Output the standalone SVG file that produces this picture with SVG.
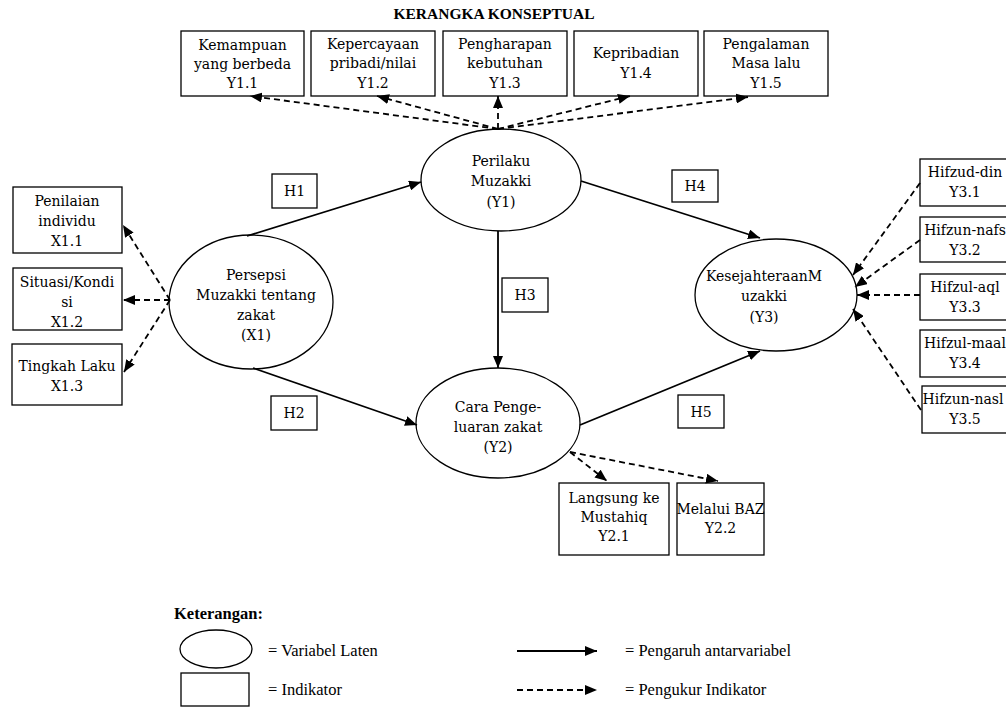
<svg xmlns="http://www.w3.org/2000/svg" width="1006" height="707" viewBox="0 0 1006 707">
  <defs>
    <marker id="head" markerUnits="userSpaceOnUse" markerWidth="13" markerHeight="10" refX="12" refY="5" orient="auto">
      <path d="M0,0 L12,5 L0,10 z" fill="#000"/>
    </marker>
    <style>
      .box { fill: #fff; stroke: #000; stroke-width: 1.3; }
      .lat { fill: #fff; stroke: #000; stroke-width: 1.3; }
      text { font-family: "DejaVu Serif", "Liberation Serif", serif; font-size: 14px; fill: #000; text-anchor: middle; }
      .title { font-family: "Liberation Serif", serif; font-weight: bold; font-size: 15.5px; }
      .key { font-family: "Liberation Serif", serif; font-size: 16.5px; text-anchor: start; }
      .keyhead { font-family: "Liberation Serif", serif; font-weight: bold; font-size: 16.5px; text-anchor: start; }
      .solid { stroke: #000; stroke-width: 1.8; fill: none; marker-end: url(#head); }
      .dash { stroke: #000; stroke-width: 1.8; fill: none; stroke-dasharray: 6 4; marker-end: url(#head); }
    </style>
  </defs>
  <rect width="1006" height="707" fill="#fff"/>

  <text class="title" x="494" y="19">KERANGKA KONSEPTUAL</text>

  <!-- indicators of Y1 -->
  <g id="y1-1"><rect class="box" x="181" y="31" width="123" height="65"/>
    <text x="242.5" y="50">Kemampuan</text><text x="242.5" y="69">yang berbeda</text><text x="242.5" y="88">Y1.1</text></g>
  <g id="y1-2"><rect class="box" x="311" y="31" width="124" height="65"/>
    <text x="373" y="49">Kepercayaan</text><text x="373" y="68">pribadi/nilai</text><text x="373" y="88">Y1.2</text></g>
  <g id="y1-3"><rect class="box" x="443" y="31" width="124" height="65"/>
    <text x="505" y="49">Pengharapan</text><text x="505" y="68">kebutuhan</text><text x="505" y="88">Y1.3</text></g>
  <g id="y1-4"><rect class="box" x="574" y="31" width="124" height="65"/>
    <text x="636" y="58">Kepribadian</text><text x="636" y="78">Y1.4</text></g>
  <g id="y1-5"><rect class="box" x="704" y="31" width="124" height="65"/>
    <text x="766" y="49">Pengalaman</text><text x="766" y="68">Masa lalu</text><text x="766" y="88">Y1.5</text></g>

  <!-- indicators of X1 -->
  <g id="x1-1"><rect class="box" x="13" y="187" width="109" height="66"/>
    <text x="67" y="206">Penilaian</text><text x="67" y="226">individu</text><text x="67" y="246">X1.1</text></g>
  <g id="x1-2"><rect class="box" x="13" y="268" width="109" height="62"/>
    <text x="67" y="287">Situasi/Kondi</text><text x="67" y="307">si</text><text x="67" y="327">X1.2</text></g>
  <g id="x1-3"><rect class="box" x="12" y="344" width="110" height="61"/>
    <text x="67" y="371">Tingkah Laku</text><text x="67" y="391">X1.3</text></g>

  <!-- indicators of Y3 (boxes run past the right edge) -->
  <g id="y3-1"><rect class="box" x="920" y="159" width="100" height="47"/>
    <text x="965" y="177">Hifzud-din</text><text x="965" y="197">Y3.1</text></g>
  <g id="y3-2"><rect class="box" x="920" y="217" width="100" height="45"/>
    <text x="965" y="235">Hifzun-nafs</text><text x="965" y="255">Y3.2</text></g>
  <g id="y3-3"><rect class="box" x="920" y="274" width="100" height="46"/>
    <text x="965" y="292">Hifzul-aql</text><text x="965" y="312">Y3.3</text></g>
  <g id="y3-4"><rect class="box" x="920" y="330" width="100" height="47"/>
    <text x="965" y="348">Hifzul-maal</text><text x="965" y="368">Y3.4</text></g>
  <g id="y3-5"><rect class="box" x="922" y="386" width="100" height="47"/>
    <text x="963" y="404">Hifzun-nasl</text><text x="965" y="424">Y3.5</text></g>

  <!-- indicators of Y2 -->
  <g id="y2-1"><rect class="box" x="559" y="483" width="110" height="72"/>
    <text x="614" y="503">Langsung ke</text><text x="614" y="522">Mustahiq</text><text x="614" y="541">Y2.1</text></g>
  <g id="y2-2"><rect class="box" x="677" y="483" width="87" height="72"/>
    <text x="720.5" y="514">Melalui BAZ</text><text x="720.5" y="533">Y2.2</text></g>

  <!-- latent variables -->
  <g id="y1"><ellipse class="lat" cx="501" cy="180" rx="80" ry="51"/>
    <text x="501" y="166">Perilaku</text><text x="501" y="186">Muzakki</text><text x="501" y="207">(Y1)</text></g>
  <g id="x1"><ellipse class="lat" cx="251" cy="302" rx="82" ry="67"/>
    <text x="256" y="280">Persepsi</text><text x="256" y="300">Muzakki tentang</text><text x="256" y="320">zakat</text><text x="256" y="340">(X1)</text></g>
  <g id="y3"><ellipse class="lat" cx="776" cy="295" rx="81" ry="56"/>
    <text x="764" y="281">KesejahteraanM</text><text x="764" y="301">uzakki</text><text x="764" y="322">(Y3)</text></g>
  <g id="y2"><ellipse class="lat" cx="498" cy="423" rx="82" ry="55"/>
    <text x="498" y="412">Cara Penge-</text><text x="498" y="432">luaran zakat</text><text x="498" y="452">(Y2)</text></g>

  <!-- hypothesis labels -->
  <g id="h1"><rect class="box" x="272" y="174" width="45" height="34"/><text x="294.5" y="196">H1</text></g>
  <g id="h2"><rect class="box" x="271" y="396" width="46" height="34"/><text x="294" y="418">H2</text></g>
  <g id="h3"><rect class="box" x="502" y="278" width="46" height="34"/><text x="525" y="300">H3</text></g>
  <g id="h4"><rect class="box" x="672" y="170" width="46" height="32"/><text x="695" y="191">H4</text></g>
  <g id="h5"><rect class="box" x="678" y="395" width="46" height="33"/><text x="701" y="417">H5</text></g>

  <!-- connectors -->
  <g id="connectors">
    <path class="solid" d="M247,236 L421,182"/>
    <path class="solid" d="M581,181 L760,238"/>
    <path class="solid" d="M498,231 L498,368"/>
    <path class="solid" d="M253,368 L417,425"/>
    <path class="solid" d="M580,425 L760,351"/>

    <path class="dash" d="M498,129 L250,96"/>
    <path class="dash" d="M498,129 L377,96"/>
    <path class="dash" d="M498,129 L498,96"/>
    <path class="dash" d="M498,129 L630,96"/>
    <path class="dash" d="M498,129 L748,97"/>

    <path class="dash" d="M170,300 L123,225"/>
    <path class="dash" d="M170,300 L123,300"/>
    <path class="dash" d="M170,300 L124,372"/>

    <path class="dash" d="M920,183 L853,275"/>
    <path class="dash" d="M920,240 L855,287"/>
    <path class="dash" d="M920,295 L857,295"/>
    <path class="dash" d="M921,410 L853,309"/>

    <path class="dash" d="M570,452 L607,481"/>
    <path class="dash" d="M570,452 L718,481"/>
  </g>

  <!-- legend -->
  <g id="legend">
    <text class="keyhead" x="174" y="619">Keterangan:</text>
    <ellipse class="lat" cx="216" cy="649" rx="36" ry="19"/>
    <text class="key" x="268" y="656">= Variabel Laten</text>
    <rect class="box" x="181" y="673" width="68" height="33"/>
    <text class="key" x="268" y="695">= Indikator</text>
    <path class="solid" d="M517,651 L597,651"/>
    <text class="key" x="625" y="656">= Pengaruh antarvariabel</text>
    <path class="dash" d="M517,690 L597,690"/>
    <text class="key" x="625" y="695">= Pengukur Indikator</text>
  </g>
</svg>
